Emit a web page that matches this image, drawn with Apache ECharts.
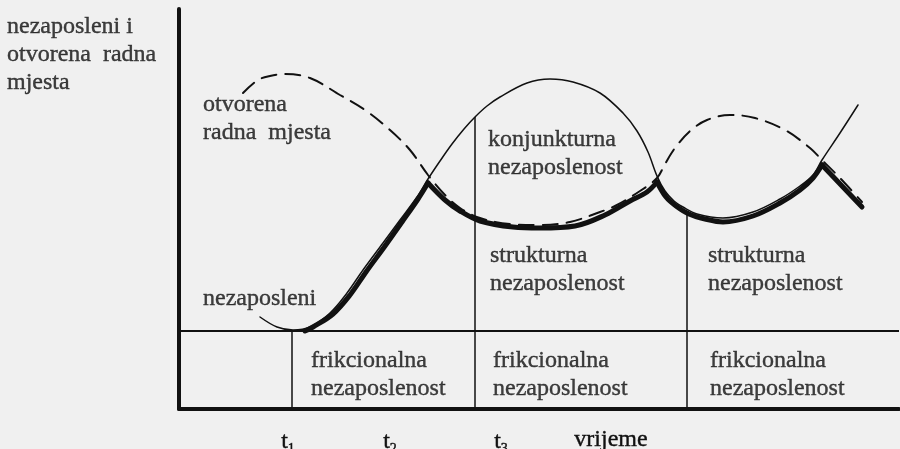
<!DOCTYPE html>
<html>
<head>
<meta charset="utf-8">
<style>
  html, body { margin: 0; padding: 0; background: #f0f0f0; }
  #chart { width: 900px; height: 449px; }
</style>
<script src="https://cdn.jsdelivr.net/npm/echarts@6/dist/echarts.min.js"></script>
</head>
<body>
<div id="chart"></div>
<script>
const chart = echarts.init(document.getElementById("chart"));

// otvorena radna mjesta (dashed curve): [vrijeme, razina]
const vacancies = [
  [6.4, 31.6], [7.9, 32.9], [9.1, 33.3], [10.6, 33.5], [13.1, 33.1], [16.1, 31.4],
  [18.6, 29.9], [21.1, 27.9], [23.1, 25.9], [24.9, 23.4], [26.6, 21.4], [28.1, 20.1],
  [30.1, 19.1], [33.1, 18.5], [36.1, 18.4], [39.1, 18.7], [42.1, 19.7], [43.6, 20.3],
  [46.1, 21.8], [47.8, 23.1], [48.6, 24.5], [49.6, 26.1], [51.1, 27.8], [52.8, 28.9],
  [55.1, 29.4], [57.6, 29.1], [60.6, 27.9], [63.1, 26.1], [64.3, 24.9], [66.1, 23.1],
  [68.3, 20.7]
];

// nezaposleni (solid curve)
const unemployed = [
  [8.1, 9.2], [9.8, 8.2], [11.4, 7.9], [13.1, 8.2], [15.1, 9.6], [16.8, 11.6],
  [18.4, 13.9], [20.4, 16.6], [22.1, 18.9], [23.8, 21.2], [24.9, 23.0], [26.1, 24.8],
  [27.3, 26.5], [28.5, 28.0], [29.6, 29.2], [30.8, 30.3], [32.1, 31.2], [34.8, 32.6],
  [37.1, 33.0], [39.4, 32.7], [42.1, 31.6], [44.4, 29.6], [45.8, 27.8], [46.9, 25.7],
  [47.8, 23.3], [48.6, 21.8], [49.5, 20.8], [50.4, 20.2], [51.8, 19.5], [54.4, 19.1],
  [57.4, 19.7], [60.1, 21.0], [62.1, 22.3], [63.4, 23.4], [64.3, 24.9], [66.1, 27.6],
  [67.9, 30.4]
];

// heavy lower envelope, one piece between each pair of crossings
const envelopeRise = [
  [12.6, 7.8], [13.4, 8.2], [15.4, 9.5], [17.1, 11.4], [18.7, 13.7], [20.6, 16.3],
  [22.3, 18.7], [23.9, 21.0], [24.9, 22.6]
];
const envelopeTroughV = [
  [24.9, 22.6], [26.6, 20.9], [28.1, 19.8], [30.1, 18.8], [33.4, 18.2], [36.1, 18.1],
  [39.6, 18.3], [42.6, 19.4], [45.1, 20.8], [46.8, 21.7], [47.8, 22.7]
];
const envelopeTroughU = [
  [47.8, 22.7], [48.7, 21.2], [49.7, 20.3], [51.0, 19.5], [52.6, 19.0], [54.4, 18.7],
  [57.4, 19.3], [60.1, 20.6], [62.1, 21.9], [63.4, 23.1], [64.3, 24.4]
];
const envelopeFall = [[64.3, 24.4], [66.3, 22.3], [68.3, 20.2]];

// frikcionalna level and vertical dividers [x, top]
const frictionLevel = 7.8;
const dividers = [[11.3, 7.8], [29.6, 29.2], [50.8, 19.8]];

// bottom tick labels
const tickValues = [10.9, 21.1, 32.2, 43.2];
const tickLabels = ["t{s|1}", "t{s|2}", "t{s|3}", "vrijeme"];

// text blocks: [left x, middle y]
const noteTexts = [
  "nezaposleni i\notvorena  radna\nmjesta",
  "otvorena\nradna  mjesta",
  "konjunkturna\nnezaposlenost",
  "strukturna\nnezaposlenost",
  "strukturna\nnezaposlenost",
  "frikcionalna\nnezaposlenost",
  "frikcionalna\nnezaposlenost",
  "frikcionalna\nnezaposlenost",
  "nezaposleni"
];
const notePos = [
  [-17.2, 35.4], [2.4, 29.0], [30.9, 25.5], [31.1, 13.9], [52.9, 13.9],
  [13.2, 3.4], [31.4, 3.4], [53.1, 3.4], [2.4, 11.0]
];

const ink = "#111111";
const serif = "Liberation Serif";

function curve(data, width, type) {
  return {
    type: "line",
    data: data,
    smooth: 0.35,
    showSymbol: false,
    silent: true,
    clip: false,
    lineStyle: { color: ink, width: width, type: type || "solid", cap: "round" }
  };
}

function segment(data, width) {
  return {
    type: "line",
    data: data,
    showSymbol: false,
    silent: true,
    lineStyle: { color: ink, width: width }
  };
}

const series = [
  segment([[0, frictionLevel], [72, frictionLevel]], 2),
  ...dividers.map((d) => segment([[d[0], 0], [d[0], d[1]]], 1.5)),
  curve(vacancies, 2, [15, 9]),
  curve(unemployed, 1.5),
  curve(envelopeRise, 5),
  curve(envelopeTroughV, 5),
  curve(envelopeTroughU, 5),
  curve(envelopeFall, 5),
  {
    type: "scatter",
    symbolSize: 0,
    silent: true,
    clip: false,
    data: notePos.map((p, i) => ({ value: p, name: noteTexts[i] })),
    label: {
      show: true,
      position: "right",
      distance: 0,
      formatter: (p) => p.name,
      color: ink,
      textBorderColor: ink,
      textBorderWidth: 0.4,
      fontFamily: serif,
      fontSize: 24,
      lineHeight: 28,
      align: "left"
    }
  }
];

const option = {
  animation: false,
  backgroundColor: "#f0f0f0",
  textStyle: { fontFamily: serif },
  grid: { left: 179, top: 9, width: 720, height: 400, outerBoundsMode: "none" },
  xAxis: {
    type: "value",
    min: 0,
    max: 72,
    splitLine: { show: false },
    axisTick: { show: false },
    axisLine: { lineStyle: { color: ink, width: 4 } },
    axisLabel: {
      customValues: tickValues,
      formatter: (v) => tickLabels[tickValues.indexOf(v)],
      margin: 19,
      color: ink,
      textBorderColor: ink,
      textBorderWidth: 0.4,
      fontFamily: serif,
      fontSize: 24,
      rich: {
        s: { fontSize: 14, fontFamily: serif, color: ink, padding: [14, 0, 0, 0] }
      }
    }
  },
  yAxis: {
    type: "value",
    min: 0,
    max: 40,
    splitLine: { show: false },
    axisTick: { show: false },
    axisLabel: { show: false },
    axisLine: { show: true, lineStyle: { color: ink, width: 4 } }
  },
  series: series
};

chart.setOption(option);
// redraw once the serif face is ready so the labels don't fall back to sans
if (document.fonts && document.fonts.load) {
  document.fonts.load("24px 'Liberation Serif'").then(() => chart.setOption(option, true));
}
</script>
</body>
</html>
